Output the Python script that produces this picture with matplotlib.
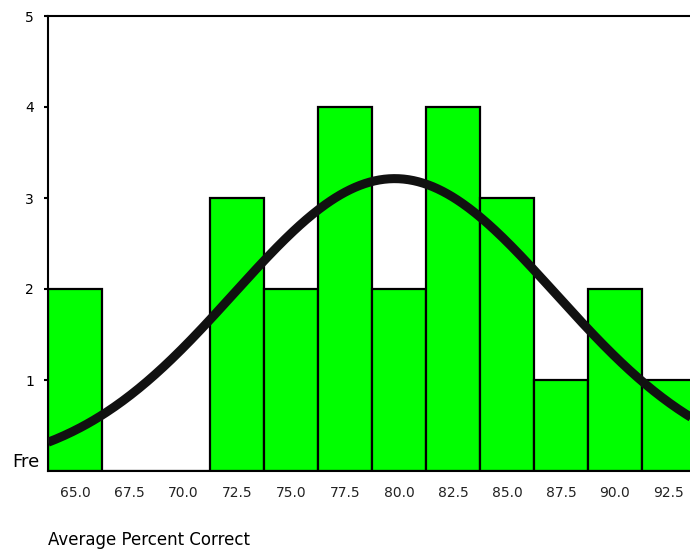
import numpy as np
import matplotlib.pyplot as plt

# Bin centres and counts
centres = [65.0, 67.5, 70.0, 72.5, 75.0, 77.5, 80.0, 82.5, 85.0, 87.5, 90.0, 92.5]
counts = [2, 0, 0, 3, 2, 4, 2, 4, 3, 1, 2, 1]
bin_width = 2.5

# Normal overlay parameters
mu = 79.8
sigma = 7.45

fig = plt.figure(figsize=(6.9, 5.53), dpi=100)
ax = fig.add_axes([48 / 690, 82 / 553, 1 - 48 / 690, (471 - 16) / 553])

ax.bar(centres, counts, width=bin_width, color="#00ff00",
       edgecolor="black", linewidth=1.6, zorder=2)

n = sum(counts)
x = np.linspace(63.75, 93.75, 400)
y = n * bin_width * np.exp(-0.5 * ((x - mu) / sigma) ** 2) / (sigma * np.sqrt(2 * np.pi))
ax.plot(x, y, color="#111111", linewidth=6.5, solid_capstyle="butt", zorder=3)

ax.set_xlim(63.75, 63.75 + (690 - 48) / 54 * 2.5)
ax.set_ylim(0, 5)
ax.set_xticks(centres)
ax.set_xticklabels([f"{c:.1f}" for c in centres], fontsize=10, color="#222222")
ax.set_yticks([1, 2, 3, 4, 5])
ax.set_yticklabels(["1", "2", "3", "4", "5"], fontsize=10)
ax.tick_params(axis="x", length=0, pad=11)
ax.tick_params(axis="y", length=3, width=1.5, pad=7)

for side in ["left", "top", "bottom"]:
    ax.spines[side].set_linewidth(1.5)
ax.spines["right"].set_visible(False)

# truncated axis label as it appears in the source
fig.text(12 / 690, 1 - 462 / 553, "Fre", fontsize=13, va="center", ha="left")

fig.text(48 / 690, 1 - 540 / 553, "Average Percent Correct", fontsize=12,
         va="center", ha="left")

fig.savefig("out.png", dpi=100)
